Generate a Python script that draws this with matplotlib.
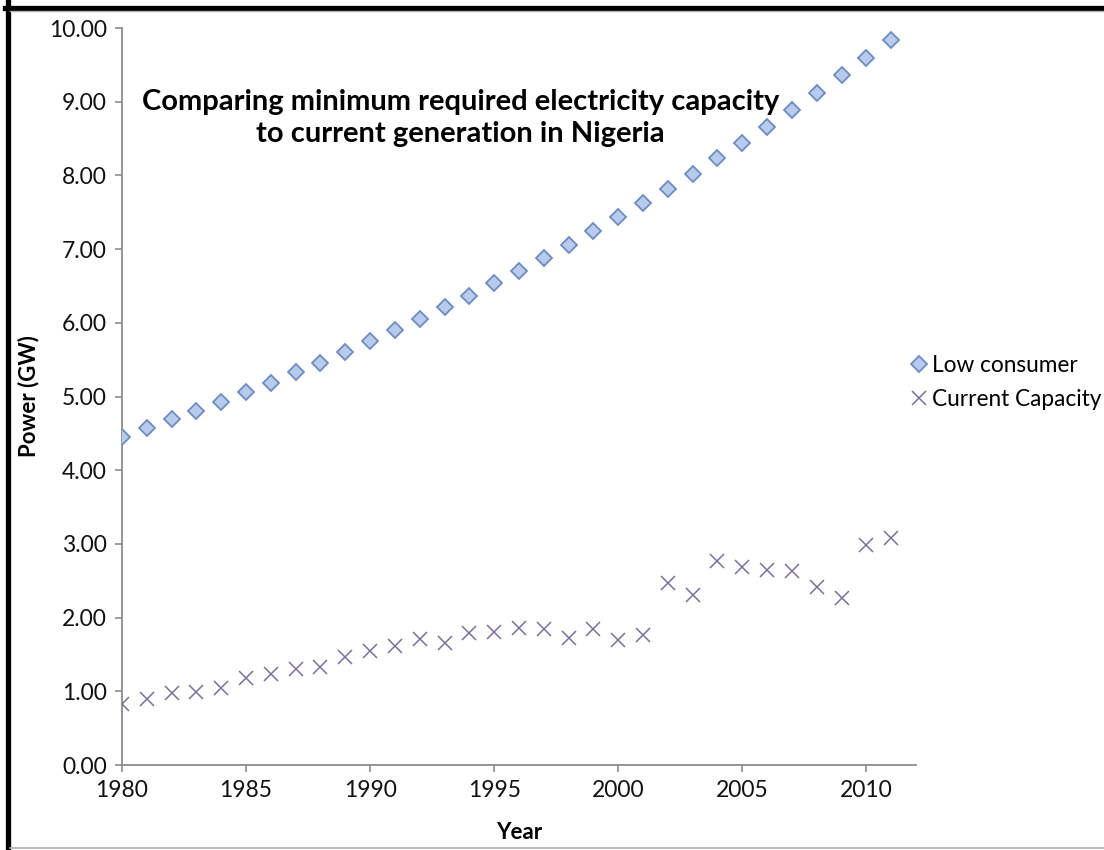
import numpy as np
import matplotlib.pyplot as plt
from matplotlib.lines import Line2D

plt.rcParams['font.family'] = ['Lato', 'DejaVu Sans']

years = list(range(1980, 2012))
low_consumer = [4.45, 4.57, 4.69, 4.81, 4.93, 5.06, 5.19, 5.33, 5.46, 5.60,
                5.75, 5.90, 6.05, 6.21, 6.37, 6.54, 6.71, 6.88, 7.06, 7.24,
                7.43, 7.62, 7.82, 8.02, 8.23, 8.44, 8.66, 8.89, 9.12, 9.36,
                9.60, 9.84]
current_capacity = [0.83, 0.90, 0.98, 0.99, 1.04, 1.18, 1.24, 1.30, 1.33, 1.47,
                    1.55, 1.62, 1.71, 1.66, 1.79, 1.81, 1.86, 1.85, 1.73, 1.85,
                    1.69, 1.76, 2.47, 2.31, 2.77, 2.69, 2.64, 2.63, 2.41, 2.26,
                    2.99, 3.08]
x_ticks = [1980, 1985, 1990, 1995, 2000, 2005, 2010]
y_ticks = np.arange(0, 10.01, 1.0)

fig = plt.figure(figsize=(11.04, 8.5), dpi=100)
ax = fig.add_axes([0.1105, 0.1, 0.7192, 0.867])

ax.plot(years, low_consumer, ls='none', marker='D', ms=8.5, mfc='#b7cbee',
        mec='#6f8cbd', mew=1.3, label='Low consumer', zorder=3)
ax.plot(years, current_capacity, ls='none', marker='x', ms=10, mec='#7d6f9c',
        mew=1.1, label='Current Capacity', zorder=3)

ax.set_xlim(1980, 2012)
ax.set_ylim(0, 10)
ax.set_xticks(x_ticks)
ax.set_yticks(y_ticks)
ax.set_yticklabels([f'{v:.2f}' for v in y_ticks])
for s in ['top', 'right']:
    ax.spines[s].set_visible(False)
for s in ['left', 'bottom']:
    ax.spines[s].set_color('#8c8c8c')
    ax.spines[s].set_linewidth(1.3)
ax.tick_params(direction='out', length=5, width=1.2, color='#8c8c8c',
               labelsize=16.5, labelcolor='#111111', pad=6)

ax.set_xlabel('Year', fontsize=16, fontweight='bold', labelpad=15)
ax.set_ylabel('Power (GW)', fontsize=16, fontweight='bold')
ax.yaxis.set_label_coords(-0.104, 0.5)

ax.text(0.426, 0.878, 'Comparing minimum required electricity capacity\nto current generation in Nigeria',
        transform=ax.transAxes, ha='center', va='center', fontsize=21,
        fontweight='bold', linespacing=1.3)

fig.legend(loc='center left', bbox_to_anchor=(0.822, 0.55), frameon=False,
           fontsize=16.3, handletextpad=0.1, handlelength=1.0, labelspacing=0.55,
           borderpad=0, borderaxespad=0)

# frame lines around the figure
fig.add_artist(Line2D([0.0068, 0.0068], [0, 1], transform=fig.transFigure,
                      color='black', lw=3.8))
fig.add_artist(Line2D([0.0045, 1], [0.9906, 0.9906], transform=fig.transFigure,
                      color='black', lw=3.8))
fig.add_artist(Line2D([0.0091, 1], [0.9868, 0.9868], transform=fig.transFigure,
                      color='#b0b0b0', lw=1))
fig.add_artist(Line2D([0.0091, 1], [0.0024, 0.0024], transform=fig.transFigure,
                      color='#b0b0b0', lw=1.2))

fig.savefig('out.png', dpi=100)
